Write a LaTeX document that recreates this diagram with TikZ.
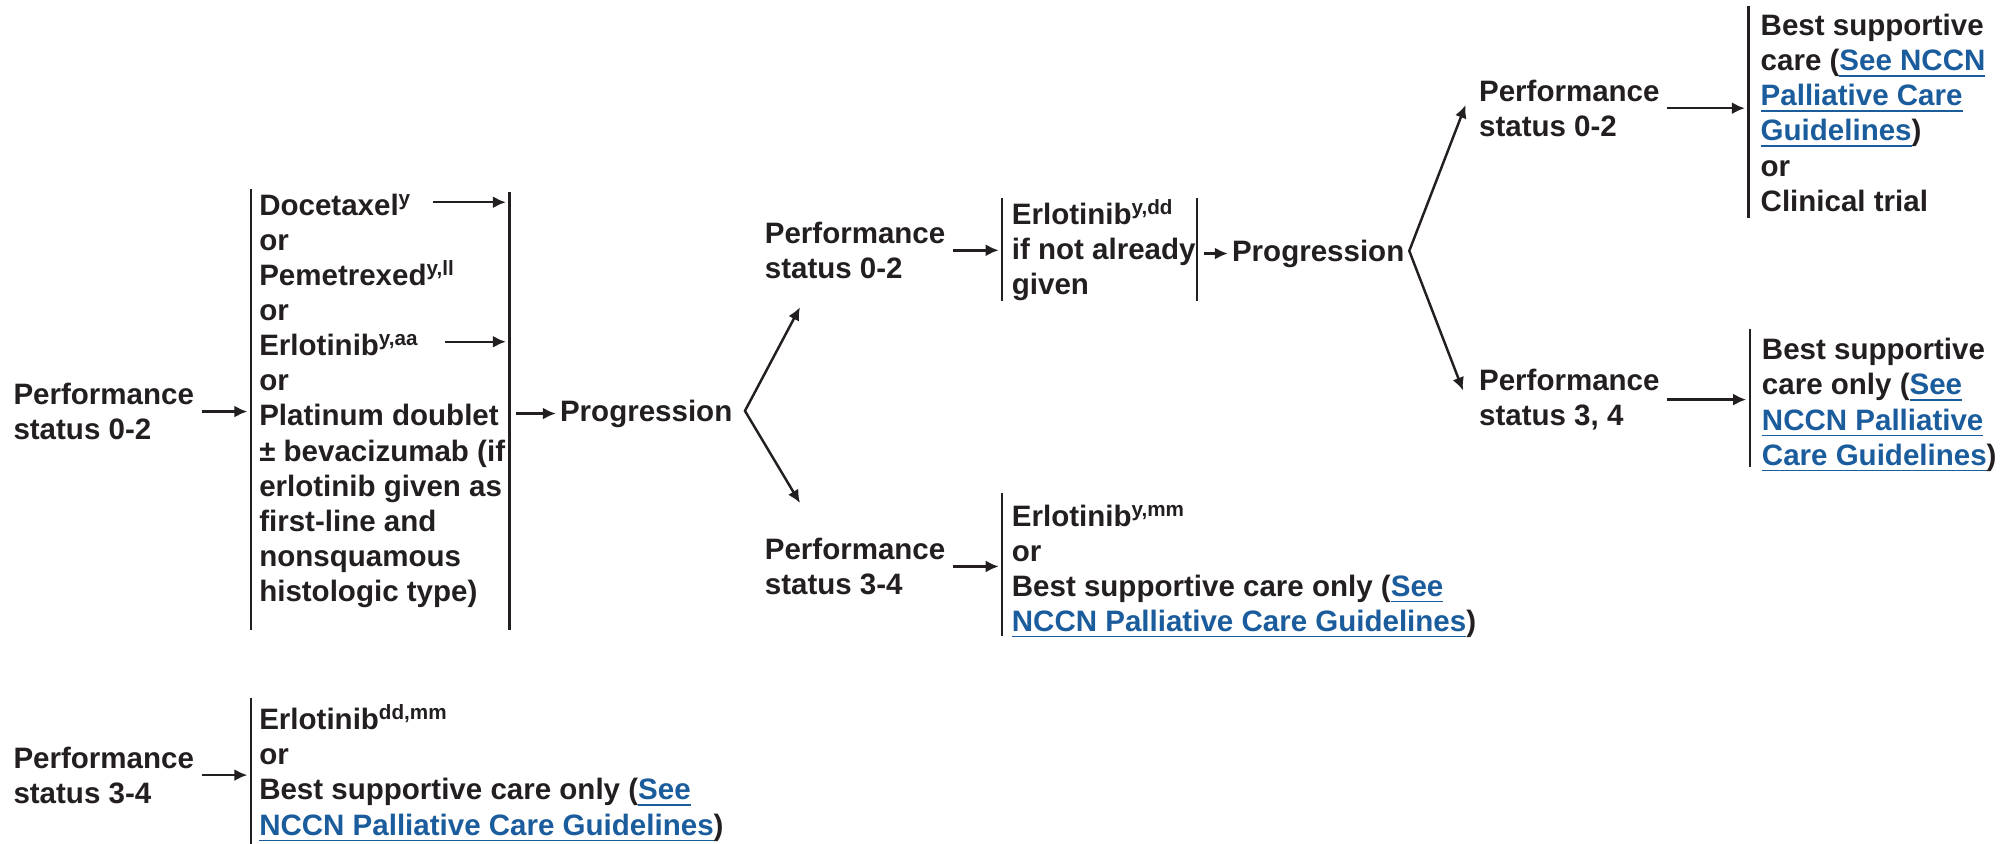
\documentclass[tikz,border=0pt]{standalone}
\usepackage{fontspec}
\setmainfont{Liberation Sans}
\usepackage{xcolor}
\usepackage{tikz}
\usetikzlibrary{positioning, fit, arrows.meta}
\definecolor{textBlack}{HTML}{231F20}
\definecolor{linkBlue}{HTML}{1A5C9C}
\newcommand{\nccnLink}[1]{\textcolor{linkBlue}{\underline{#1}}}
\tikzstyle{textNode}=[inner sep=0pt, align=left, anchor=base west, text=textBlack, font=\fontsize{8.4}{10}\selectfont\bfseries]
\tikzstyle{optionBar}=[inner sep=0pt, outer sep=0pt]
\tikzstyle{barLine}=[draw=textBlack, line width=0.7pt]
\tikzstyle{flowArrow}=[-{Latex[length=1.3mm,width=1.2mm]}, line width=0.7pt, draw=textBlack, shorten <=2pt, shorten >=1pt]
\tikzstyle{forkArrow}=[{Latex[length=1.3mm,width=1.2mm]}-{Latex[length=1.3mm,width=1.2mm]}, line width=0.7pt, draw=textBlack, line join=miter]

\begin{document}
\begin{tikzpicture}[x=0.128mm, y=-0.128mm]

    \useasboundingbox (0,0) rectangle (1568,659);

    % nodes (placed at the baseline of their last line)

    \node[textNode] (ps1) at (10,343.5) {Performance\\status 0-2};
    \node[textNode] (tx1) at (202,470) {Docetaxel\textsuperscript{y}\\or\\Pemetrexed\textsuperscript{y,ll}\\or\\Erlotinib\textsuperscript{y,aa}\\or\\Platinum doublet\\± bevacizumab (if\\erlotinib given as\\first-line and\\nonsquamous\\histologic type)};
    \node[textNode] (prog1) at (437,329) {Progression};

    \node[textNode] (ps2) at (597,217.5) {Performance\\status 0-2};
    \node[textNode] (tx2) at (790,230) {Erlotinib\textsuperscript{y,dd}\\if not already\\given};
    \node[textNode] (prog2) at (962,204) {Progression};

    \node[textNode] (ps3) at (1155,106.5) {Performance\\status 0-2};
    \node[textNode] (tx3) at (1375,165) {Best supportive\\care (\nccnLink{See NCCN}\\\nccnLink{Palliative Care}\\\nccnLink{Guidelines})\\or\\Clinical trial};

    \node[textNode] (ps4) at (1155,332.5) {Performance\\status 3, 4};
    \node[textNode] (tx4) at (1376,363.4) {Best supportive\\care only (\nccnLink{See}\\\nccnLink{NCCN Palliative}\\\nccnLink{Care Guidelines})};

    \node[textNode] (ps5) at (597,464.5) {Performance\\status 3-4};
    \node[textNode] (tx5) at (790,493.4) {Erlotinib\textsuperscript{y,mm}\\or\\Best supportive care only (\nccnLink{See}\\\nccnLink{NCCN Palliative Care Guidelines})};

    \node[textNode] (ps6) at (10,627.5) {Performance\\status 3-4};
    \node[textNode] (tx6) at (202,652.4) {Erlotinib\textsuperscript{dd,mm}\\or\\Best supportive care only (\nccnLink{See}\\\nccnLink{NCCN Palliative Care Guidelines})};

    % bars

    \node[optionBar, fit={(196,148) (196,492)}] (bar1l) {};
    \node[optionBar, fit={(398,150) (398,492)}] (bar1r) {};
    \node[optionBar, fit={(783,155) (783,235)}] (bar2l) {};
    \node[optionBar, fit={(935,155) (935,235)}] (bar2r) {};
    \node[optionBar, fit={(1366,5) (1366,170)}] (bar3) {};
    \node[optionBar, fit={(1367,257) (1367,365)}] (bar4) {};
    \node[optionBar, fit={(783,385) (783,497)}] (bar5) {};
    \node[optionBar, fit={(196,545) (196,659)}] (bar6) {};

    \foreach \b in {bar1l,bar1r,bar2l,bar2r,bar3,bar4,bar5,bar6}
        \draw[barLine] (\b.north) -- (\b.south);

    \coordinate (docTail) at (338,158);
    \coordinate (erlTail) at (348,267);
    \coordinate (fork1) at (582,321);
    \coordinate (up1) at (625,240);
    \coordinate (down1) at (625,393);
    \coordinate (fork2) at (1101,196);
    \coordinate (up2) at (1145,82);
    \coordinate (down2) at (1143,305);

    % transition

    \draw[flowArrow] (ps1) -- (ps1 -| bar1l);
    \draw[flowArrow, shorten <=0pt] (docTail) -- (docTail -| bar1r);
    \draw[flowArrow, shorten <=0pt] (erlTail) -- (erlTail -| bar1r);
    \draw[flowArrow] (bar1r |- prog1) -- (prog1);
    \draw[forkArrow] (up1) -- (fork1) -- (down1);

    \draw[flowArrow] (ps2) -- (ps2 -| bar2l);
    \draw[flowArrow] (bar2r |- prog2) -- (prog2);
    \draw[forkArrow] (up2) -- (fork2) -- (down2);

    \draw[flowArrow] (ps3) -- (ps3 -| bar3);
    \draw[flowArrow] (ps4) -- (ps4 -| bar4);
    \draw[flowArrow] (ps5) -- (ps5 -| bar5);
    \draw[flowArrow] (ps6) -- (ps6 -| bar6);

\end{tikzpicture}
\end{document}
